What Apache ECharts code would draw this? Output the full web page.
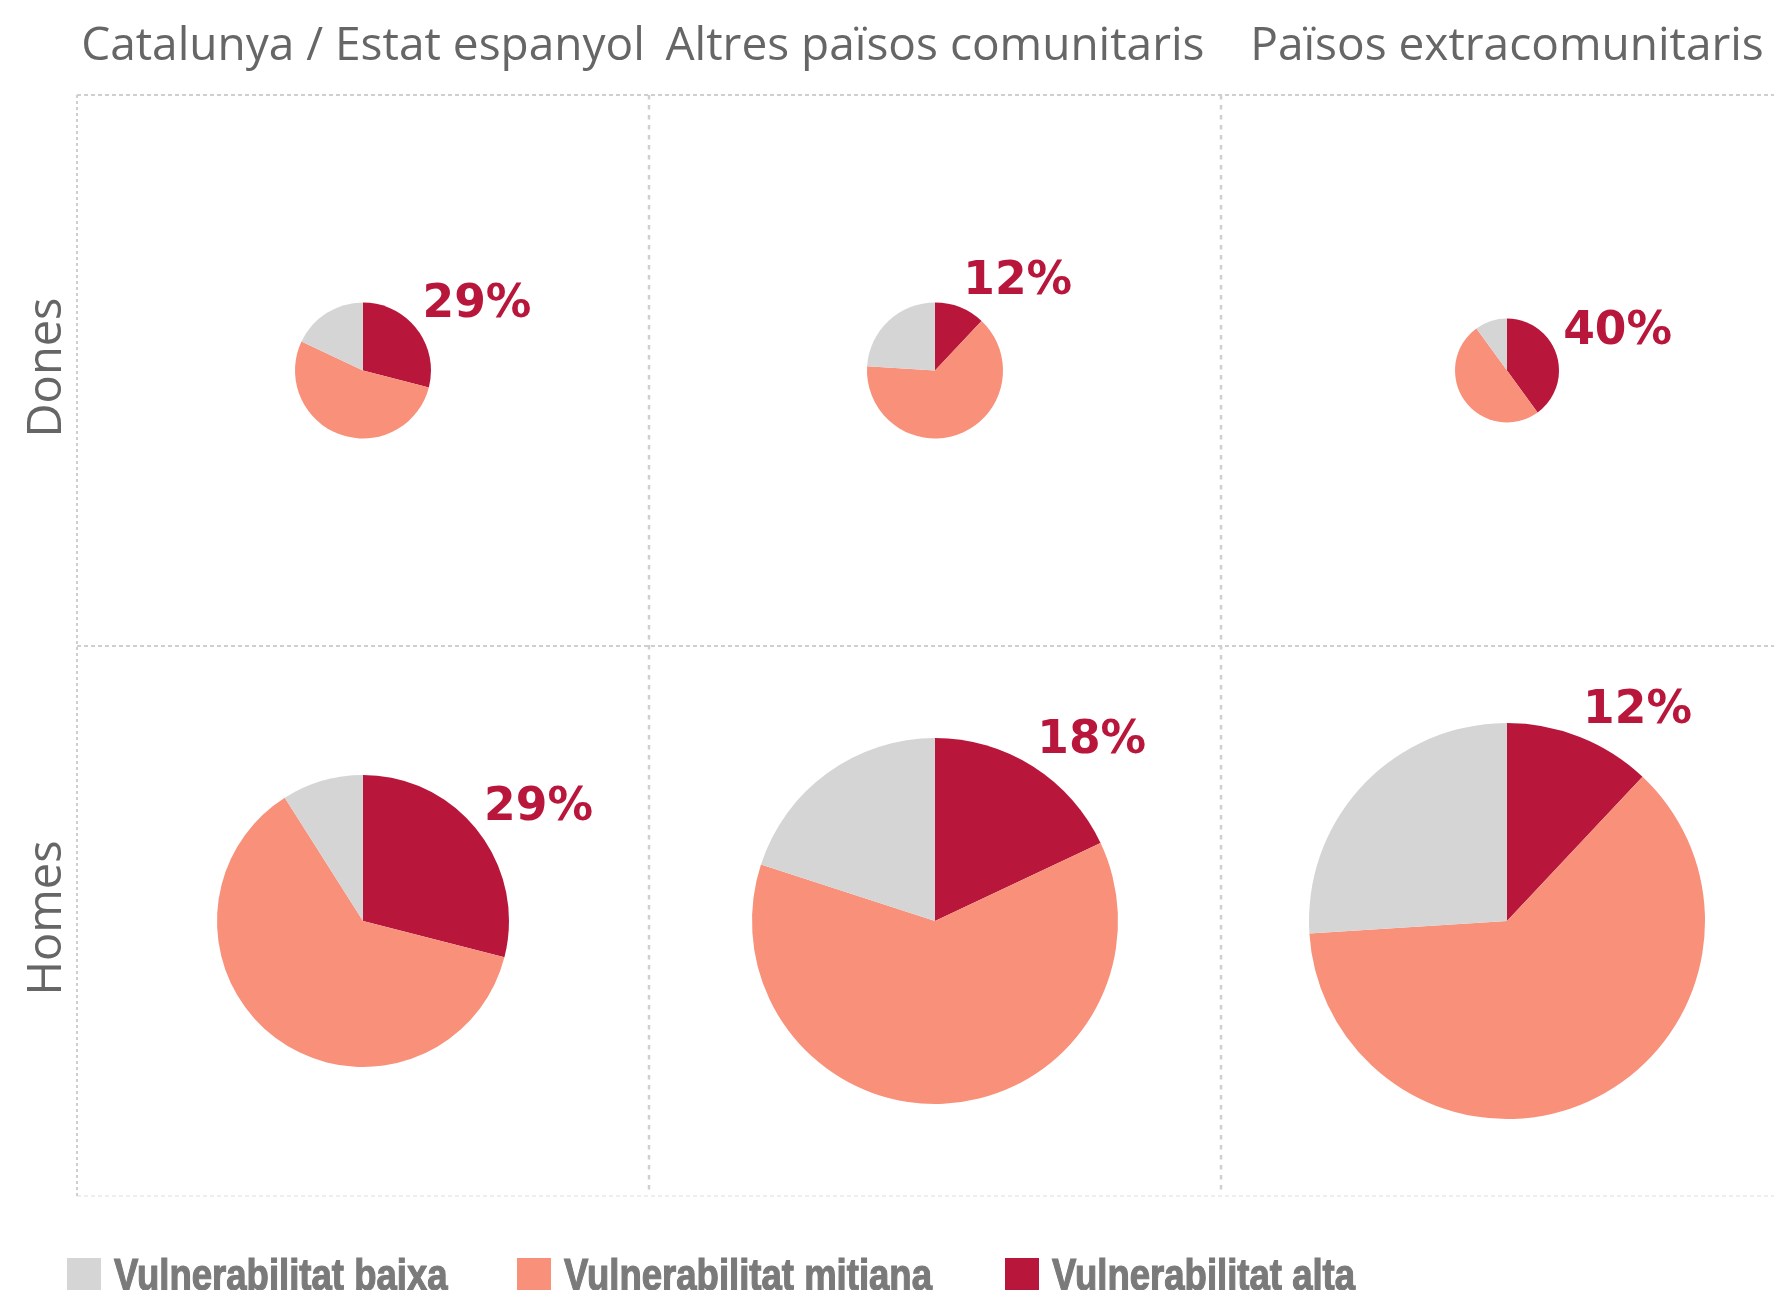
<!DOCTYPE html>
<html>
<head>
<meta charset="utf-8">
<script src="https://cdn.jsdelivr.net/npm/echarts@6/dist/echarts.min.js"></script>
<style>
  html, body { margin: 0; padding: 0; background: #ffffff; }
  #chart { width: 1774px; height: 1290px; }
</style>
</head>
<body>
<div id="chart"></div>
<script>
// Column and row headers of the small-multiple grid
const columns = ['Catalunya / Estat espanyol', 'Altres països comunitaris', 'Països extracomunitaris'];
const rows = ['Dones', 'Homes'];

// Vulnerability levels, in slice order (clockwise from 12 o'clock)
const levels = ['Vulnerabilitat alta', 'Vulnerabilitat mitjana', 'Vulnerabilitat baixa'];
const legendLabels = ['Vulnerabilitat baixa', 'Vulnerabilitat mitjana', 'Vulnerabilitat alta'];

// Shares (%) per column: Catalunya, Altres comunitaris, Extracomunitaris
const donesAlta    = [29, 12, 40];
const donesMitjana = [53, 64, 50];
const donesBaixa   = [18, 24, 10];
const homesAlta    = [29, 18, 12];
const homesMitjana = [62, 62, 62];
const homesBaixa   = [9, 20, 26];

// ---- layout & style ----
const colEdges = [77, 649, 1221, 1793];
const rowEdges = [95, 646, 1196];
const pieRadius = [[68, 68, 52], [146, 183, 198]];
const levelColor = {
  'Vulnerabilitat alta': '#B8173B',
  'Vulnerabilitat mitjana': '#F8907A',
  'Vulnerabilitat baixa': '#D5D5D5'
};
const gridColor = '#cfcfcf';
const headerFont = 'Open Sans';

const shares = [
  [donesAlta, donesMitjana, donesBaixa],
  [homesAlta, homesMitjana, homesBaixa]
];

const series = [];
rows.forEach(function (rowName, r) {
  columns.forEach(function (colName, c) {
    const cx = (colEdges[c] + colEdges[c + 1]) / 2;
    const cy = (rowEdges[r] + rowEdges[r + 1]) / 2;
    const radius = pieRadius[r][c];
    const vals = shares[r].map(function (arr) { return arr[c]; });
    const total = vals.reduce(function (a, b) { return a + b; }, 0);
    series.push({
      type: 'pie',
      name: rowName + ' – ' + colName,
      center: [cx, cy],
      radius: radius,
      startAngle: 90,
      clockwise: true,
      avoidLabelOverlap: false,
      emphasis: { disabled: true },
      itemStyle: { borderWidth: 0 },
      label: {
        show: false,
        position: 'outside',
        formatter: '{c}%',
        fontFamily: 'DejaVu Sans',
        fontWeight: 'bold',
        fontSize: 45.5,
        color: '#B8173B'
      },
      labelLine: { show: false, length: 0, length2: 0 },
      // value label sits just outside the middle of the "alta" slice
      labelLayout: function () {
        const mid = (vals[0] / 2) / total * Math.PI * 2;
        const d = radius + 6;
        return {
          x: cx + d * Math.sin(mid) + 1,
          y: cy - d * Math.cos(mid) + 3,
          align: 'left',
          verticalAlign: 'bottom'
        };
      },
      data: levels.map(function (lv, i) {
        return {
          name: lv,
          value: vals[i],
          itemStyle: { color: levelColor[lv] },
          label: { show: i === 0 }
        };
      })
    });
  });
});

// header texts and dotted cell borders
const graphics = [];
columns.forEach(function (name, c) {
  graphics.push({
    type: 'text',
    x: (colEdges[c] + colEdges[c + 1]) / 2,
    y: 47,
    style: {
      text: name, fontFamily: headerFont, fontSize: 46, fill: '#666666',
      align: 'center', verticalAlign: 'middle', textAlign: 'center', textVerticalAlign: 'middle'
    }
  });
});
rows.forEach(function (name, r) {
  graphics.push({
    type: 'text',
    x: 48,
    y: (rowEdges[r] + rowEdges[r + 1]) / 2 - 3,
    rotation: Math.PI / 2,
    style: {
      text: name, fontFamily: headerFont, fontSize: 47, fill: '#666666',
      align: 'center', verticalAlign: 'middle', textAlign: 'center', textVerticalAlign: 'middle'
    }
  });
});
function hLine(y, w, dash, color) {
  return { type: 'line', silent: true, shape: { x1: colEdges[0], y1: y, x2: 1774, y2: y },
    style: { stroke: color, lineWidth: w, lineDash: dash } };
}
function vLine(x, y2, w, dash) {
  return { type: 'line', silent: true, shape: { x1: x, y1: rowEdges[0], x2: x, y2: y2 },
    style: { stroke: gridColor, lineWidth: w, lineDash: dash } };
}
graphics.push(hLine(rowEdges[0], 2, [4, 3], gridColor));
graphics.push(hLine(rowEdges[1], 2, [4, 3], gridColor));
graphics.push(hLine(rowEdges[2], 1, [4, 3], '#dddddd'));
graphics.push(vLine(colEdges[0], rowEdges[2], 2, [3, 3]));
graphics.push(vLine(colEdges[1], rowEdges[2] - 5, 2.5, [4.5, 5.5]));
graphics.push(vLine(colEdges[2], rowEdges[2] - 5, 2.5, [4.5, 5.5]));

// colour key along the bottom edge: swatch + condensed bold caption
const legendLeft = [67, 517, 1005];
legendLabels.forEach(function (name, i) {
  graphics.push({
    type: 'rect',
    silent: true,
    shape: { x: legendLeft[i], y: 1258, width: 34, height: 34 },
    style: { fill: levelColor[name] }
  });
  graphics.push({
    type: 'text',
    silent: true,
    x: legendLeft[i] + 47,
    y: 1278,
    scaleX: 0.83,
    style: {
      text: name, fontFamily: 'Liberation Sans', fontWeight: 'bold', fontSize: 44,
      fill: '#7a7a7a', stroke: '#7a7a7a', lineWidth: 1.2,
      align: 'left', verticalAlign: 'middle', textAlign: 'left', textVerticalAlign: 'middle'
    }
  });
});

const chart = echarts.init(document.getElementById('chart'), null, { renderer: 'canvas' });
chart.setOption({
  backgroundColor: '#ffffff',
  animation: false,
  graphic: { elements: graphics },
  series: series
});
</script>
</body>
</html>
